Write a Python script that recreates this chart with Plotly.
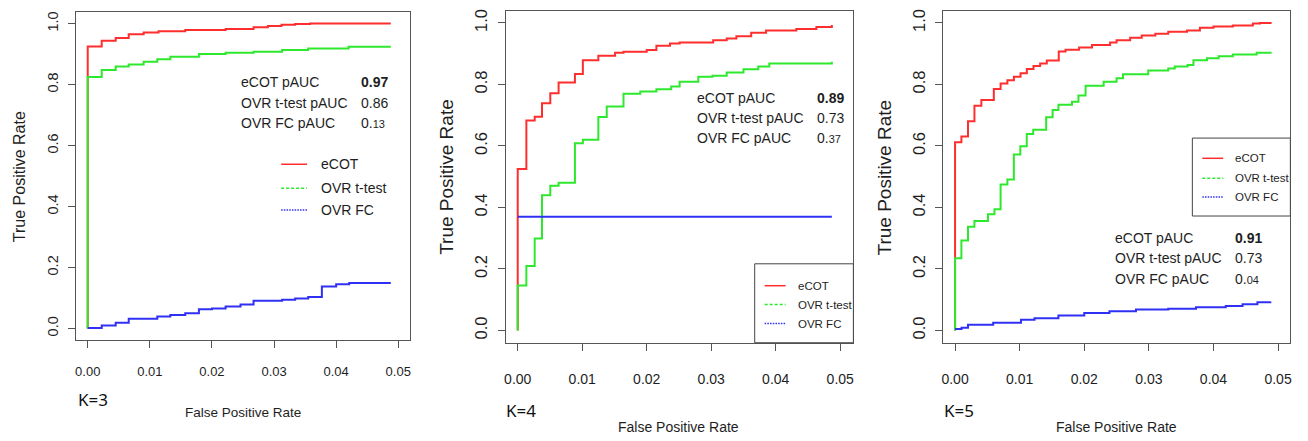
import plotly.graph_objects as go

W, H = 1308, 441

# ---------------- data ----------------
x_ticks = [0.00, 0.01, 0.02, 0.03, 0.04, 0.05]
x_tick_labels = ["0.00", "0.01", "0.02", "0.03", "0.04", "0.05"]
y_ticks = [0.0, 0.2, 0.4, 0.6, 0.8, 1.0]
y_tick_labels = ["0.0", "0.2", "0.4", "0.6", "0.8", "1.0"]

series_names = ["eCOT", "OVR t-test", "OVR FC"]
panel_labels = ["K=3", "K=4", "K=5"]

# K = 3
k3_ecot_fpr = [0, 0, 0.00225, 0.0045, 0.0066, 0.009, 0.0114, 0.0157, 0.0222, 0.0267, 0.029, 0.0312, 0.0334, 0.0358, 0.0488]
k3_ecot_tpr = [0, 0.925, 0.944, 0.953, 0.965, 0.971, 0.975, 0.979, 0.982, 0.988, 0.992, 0.996, 0.999, 1.0, 1.0]
k3_ttest_fpr = [0, 0, 0.00225, 0.0045, 0.0066, 0.009, 0.0112, 0.0133, 0.0179, 0.0222, 0.0267, 0.0313, 0.0355, 0.042, 0.0488]
k3_ttest_tpr = [0, 0.825, 0.848, 0.859, 0.866, 0.875, 0.883, 0.891, 0.900, 0.904, 0.908, 0.913, 0.918, 0.924, 0.924]
k3_fc_fpr = [0, 0.00225, 0.0045, 0.0066, 0.0112, 0.0133, 0.0157, 0.0179, 0.02, 0.0222, 0.0246, 0.0267, 0.0313, 0.0334, 0.0355, 0.0377, 0.04, 0.0421, 0.0488]
k3_fc_tpr = [0.002, 0.010, 0.0185, 0.0316, 0.039, 0.0446, 0.05, 0.063, 0.066, 0.072, 0.079, 0.091, 0.0947, 0.098, 0.1035, 0.138, 0.145, 0.149, 0.149]

# K = 4
k4_ecot_fpr = [0, 0, 0.00134, 0.00263, 0.00376, 0.00505, 0.00634, 0.00887, 0.0101, 0.0125, 0.0151, 0.0164, 0.02, 0.0215, 0.0236, 0.0251, 0.0303, 0.0324, 0.0339, 0.0362, 0.0385, 0.0432, 0.0463, 0.0487]
k4_ecot_tpr = [0, 0.525, 0.683, 0.695, 0.739, 0.771, 0.806, 0.834, 0.879, 0.893, 0.903, 0.906, 0.912, 0.926, 0.933, 0.936, 0.944, 0.949, 0.957, 0.968, 0.975, 0.98, 0.987, 0.993]
k4_ttest_fpr = [0, 0, 0.00134, 0.00263, 0.00376, 0.00505, 0.00634, 0.00887, 0.0101, 0.0125, 0.0138, 0.0164, 0.019, 0.0215, 0.0238, 0.0251, 0.028, 0.0302, 0.0324, 0.035, 0.0373, 0.039, 0.0487]
k4_ttest_tpr = [0, 0.146, 0.21, 0.299, 0.44, 0.471, 0.48, 0.609, 0.62, 0.694, 0.728, 0.77, 0.777, 0.784, 0.793, 0.809, 0.825, 0.828, 0.839, 0.849, 0.858, 0.868, 0.874]
k4_fc_fpr = [0, 0.0487]
k4_fc_tpr = [0.37, 0.37]

# K = 5
k5_ecot_fpr = [0, 0, 0.00098, 0.002, 0.003, 0.00407, 0.006, 0.00705, 0.0081, 0.00911, 0.01014, 0.01111, 0.01214, 0.01317, 0.0142, 0.01605, 0.0171, 0.0192, 0.0212, 0.024, 0.025, 0.0271, 0.0289, 0.031, 0.033, 0.0359, 0.0379, 0.04, 0.043, 0.0461, 0.0472, 0.049]
k5_ecot_tpr = [0, 0.612, 0.631, 0.68, 0.731, 0.749, 0.785, 0.803, 0.814, 0.825, 0.836, 0.85, 0.86, 0.868, 0.878, 0.907, 0.913, 0.92, 0.928, 0.936, 0.944, 0.952, 0.959, 0.965, 0.971, 0.975, 0.984, 0.988, 0.992, 0.998, 1.0, 1.0]
k5_ttest_fpr = [0, 0, 0.00098, 0.002, 0.003, 0.00509, 0.0061, 0.00705, 0.0081, 0.0091, 0.0101, 0.0111, 0.0121, 0.0141, 0.0151, 0.016, 0.0181, 0.0191, 0.0202, 0.023, 0.025, 0.026, 0.0299, 0.033, 0.034, 0.036, 0.0369, 0.039, 0.0408, 0.043, 0.0467, 0.049]
k5_ttest_tpr = [0, 0.235, 0.293, 0.337, 0.356, 0.378, 0.394, 0.475, 0.491, 0.572, 0.599, 0.639, 0.653, 0.693, 0.717, 0.734, 0.744, 0.764, 0.796, 0.809, 0.82, 0.833, 0.845, 0.852, 0.858, 0.863, 0.879, 0.885, 0.892, 0.897, 0.903, 0.903]
k5_fc_fpr = [0, 0.001, 0.002, 0.0059, 0.0102, 0.0123, 0.016, 0.02, 0.0239, 0.028, 0.033, 0.0373, 0.0419, 0.0445, 0.0468, 0.0488]
k5_fc_tpr = [0.005, 0.009, 0.019, 0.025, 0.035, 0.04, 0.0485, 0.057, 0.063, 0.068, 0.071, 0.0755, 0.08, 0.085, 0.092, 0.094]

pauc_labels = ["eCOT pAUC", "OVR t-test pAUC", "OVR FC pAUC"]
k3_pauc = ["0.97", "0.86", "0.13"]
k4_pauc = ["0.89", "0.73", "0.37"]
k5_pauc = ["0.91", "0.73", "0.04"]

# ---------------- styling ----------------
COL_RED = "#ff2e2e"
COL_GREEN = "#2ee82e"
COL_BLUE = "#3030f5"
COLORS = [COL_RED, COL_GREEN, COL_BLUE]
DASHES = ["solid", "3px,2px", "1.5px,1.2px"]
FONT = "Liberation Sans, Arial, sans-serif"
TXT = "#1e1e1e"
BOX = "#555555"


def px(x):
    return x / W


def py(y):
    return 1 - y / H


panels = [
    dict(box=(74, 409, 10, 340), xr=(-0.001926, 0.05185), yr=(-0.0392, 1.0382),
         xfs=13, yfs=14.5, xst=12, yst=4,
         series=[(k3_ecot_fpr, k3_ecot_tpr), (k3_ttest_fpr, k3_ttest_tpr), (k3_fc_fpr, k3_fc_tpr)],
         pauc=k3_pauc, pauc_pos=(238, 358, [80, 101, 122]),
         ytitle=(17, 175, 16), xtitle=(242, 412, 13.5), klab=(74, 399),
         legend=dict(box=None, line=(280, 306), text=318, rows=[163, 187, 209], fs=14)),
    dict(box=(505.3, 854, 9.3, 342.3), xr=(-0.001855, 0.05204), yr=(-0.0398, 1.0379),
         xfs=14, yfs=16.5, xst=16, yst=4,
         series=[(k4_ecot_fpr, k4_ecot_tpr), (k4_ttest_fpr, k4_ttest_tpr), (k4_fc_fpr, k4_fc_tpr)],
         pauc=k4_pauc, pauc_pos=(695, 815, [96, 117, 137]),
         ytitle=(446, 176, 19), xtitle=(679, 427, 14), klab=(504, 410),
         legend=dict(box=(755, 854, 263, 342.3), line=(765, 786), text=796, rows=[285, 304, 323], fs=11.5)),
    dict(box=(944, 1292.3, 9.3, 342.3), xr=(-0.00185, 0.0519), yr=(-0.0398, 1.0379),
         xfs=14, yfs=16.5, xst=16, yst=4,
         series=[(k5_ecot_fpr, k5_ecot_tpr), (k5_ttest_fpr, k5_ttest_tpr), (k5_fc_fpr, k5_fc_tpr)],
         pauc=k5_pauc, pauc_pos=(1114.7, 1234.7, [237, 257, 278]),
         ytitle=(885, 176, 19), xtitle=(1118, 427, 14), klab=(943, 410),
         legend=dict(box=(1194, 1292.3, 136.7, 215), line=(1204, 1225), text=1234.7, rows=[157, 177, 196], fs=11.5)),
]

fig = go.Figure()
annotations = []
shapes = []
layout_axes = {}

for i, p in enumerate(panels):
    n = "" if i == 0 else str(i + 1)
    xa, ya = "x" + n, "y" + n
    x0, x1, y0, y1 = p["box"]
    for (fx, fy), col, name in zip(p["series"], COLORS, series_names):
        fig.add_trace(go.Scatter(x=fx, y=fy, mode="lines", name=name,
                                 line=dict(color=col, width=2, shape="hv"),
                                 xaxis=xa, yaxis=ya, showlegend=False,
                                 hoverinfo="skip"))
    layout_axes["xaxis" + n] = dict(
        domain=[px(x0), px(x1)], range=list(p["xr"]), anchor=ya,
        tickmode="array", tickvals=x_ticks, ticktext=x_tick_labels,
        ticks="outside", ticklen=7, tickcolor=BOX, tickwidth=1,
        showline=True, linecolor=BOX, linewidth=1, mirror=True,
        showgrid=False, zeroline=False, ticklabelstandoff=p["xst"],
        tickfont=dict(family=FONT, size=p["xfs"], color=TXT))
    layout_axes["yaxis" + n] = dict(
        domain=[py(y1), py(y0)], range=list(p["yr"]), anchor=xa,
        tickmode="array", tickvals=y_ticks, ticktext=y_tick_labels,
        ticks="outside", ticklen=7, tickcolor=BOX, tickwidth=1,
        showline=True, linecolor=BOX, linewidth=1, mirror=True,
        showgrid=False, zeroline=False, tickangle=-90, ticklabelstandoff=p["yst"],
        tickfont=dict(family=FONT, size=p["yfs"], color=TXT))

    # pAUC text block
    lx, vx, rows = p["pauc_pos"]
    for j, (lab, val, ry) in enumerate(zip(pauc_labels, p["pauc"], rows)):
        annotations.append(dict(x=px(lx), y=py(ry), xref="paper", yref="paper",
                                text=lab, showarrow=False, xanchor="left", yanchor="middle",
                                font=dict(family=FONT, size=14, color=TXT)))
        if j == 0:
            vt = "<b>" + val + "</b>"
        elif j == 2:
            a, b = val.split(".")
            vt = a + ".<span style='font-size:11px'>" + b + "</span>"
        else:
            vt = val
        annotations.append(dict(x=px(vx), y=py(ry), xref="paper", yref="paper",
                                text=vt, showarrow=False, xanchor="left", yanchor="middle",
                                font=dict(family=FONT, size=14, color=TXT)))

    # axis titles and panel label
    tx, ty, tfs = p["ytitle"]
    annotations.append(dict(x=px(tx), y=py(ty), xref="paper", yref="paper", text="True Positive Rate",
                            showarrow=False, textangle=-90, xanchor="center", yanchor="middle",
                            font=dict(family=FONT, size=tfs, color=TXT)))
    tx, ty, tfs = p["xtitle"]
    annotations.append(dict(x=px(tx), y=py(ty), xref="paper", yref="paper", text="False Positive Rate",
                            showarrow=False, xanchor="center", yanchor="middle",
                            font=dict(family=FONT, size=tfs, color=TXT)))
    kx, ky = p["klab"]
    annotations.append(dict(x=px(kx), y=py(ky), xref="paper", yref="paper", text=panel_labels[i],
                            showarrow=False, xanchor="left", yanchor="middle",
                            font=dict(family="Noto Sans, sans-serif", size=17, color="#111")))

    # legend (R style)
    lg = p["legend"]
    if lg["box"] is not None:
        bx0, bx1, by0, by1 = lg["box"]
        shapes.append(dict(type="rect", xref="paper", yref="paper",
                           x0=px(bx0), x1=px(bx1), y0=py(by1), y1=py(by0),
                           line=dict(color="#444", width=1), fillcolor="white", layer="above"))
    l0, l1 = lg["line"]
    for name, col, dash, ry in zip(series_names, COLORS, DASHES, lg["rows"]):
        shapes.append(dict(type="line", xref="paper", yref="paper",
                           x0=px(l0), x1=px(l1), y0=py(ry), y1=py(ry),
                           line=dict(color=col, width=1.5, dash=dash), layer="above"))
        annotations.append(dict(x=px(lg["text"]), y=py(ry), xref="paper", yref="paper",
                                text=name, showarrow=False, xanchor="left", yanchor="middle",
                                font=dict(family=FONT, size=lg["fs"], color=TXT)))

fig.update_layout(
    width=W, height=H, autosize=False,
    margin=dict(l=0, r=0, t=0, b=0),
    paper_bgcolor="white", plot_bgcolor="white",
    showlegend=False,
    annotations=annotations, shapes=shapes,
    **layout_axes)

fig.write_html("out.html",
               config={"displayModeBar": False, "staticPlot": True},
               post_script="document.body.style.margin='0';document.body.style.overflow='hidden';")
